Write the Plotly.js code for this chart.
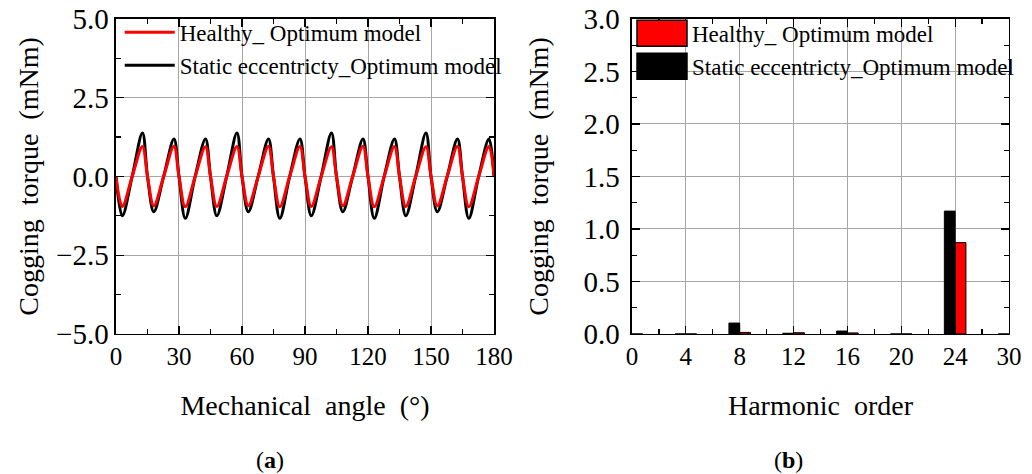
<!DOCTYPE html>
<html><head><meta charset="utf-8">
<script src="https://cdn.plot.ly/plotly-3.0.1.min.js"></script>
<style>html,body{margin:0;padding:0;background:#fff}#chart{width:1032px;height:474px}</style>
</head><body><div id="chart"></div>
<script>
// (a) cogging torque waveform, mechanical angle in degrees
const angle = [0,3,7.7,12.6, 15,18,22.7,27.6, 30,33,37.7,42.6, 45,48,52.7,57.6,
  60,63,67.7,72.6, 75,78,82.7,87.6, 90,93,97.7,102.6, 105,108,112.7,117.6,
  120,123,127.7,132.6, 135,138,142.7,147.6, 150,153,157.7,162.6, 165,168,172.7,177.6, 180];
const healthyTorque = [0,-0.95,0,0.95, 0,-0.93,0,0.96, 0,-0.96,0,0.94, 0,-0.95,0,0.95,
  0,-0.93,0,0.96, 0,-0.96,0,0.95, 0,-0.95,0,0.94, 0,-0.93,0,0.96,
  0,-0.96,0,0.95, 0,-0.95,0,0.94, 0,-0.93,0,0.96, 0,-0.96,0,0.95, 0];
const eccentricTorque = [0,-1.25,0,1.38, 0,-1.12,0,1.19, 0,-1.33,0,1.19, 0,-1.25,0,1.38,
  0,-1.12,0,1.19, 0,-1.33,0,1.19, 0,-1.25,0,1.38, 0,-1.12,0,1.19,
  0,-1.33,0,1.19, 0,-1.25,0,1.38, 0,-1.12,0,1.19, 0,-1.33,0,1.19, 0];

// (b) harmonic spectrum
const harmonicLabels = ['0','4','8','12','16','20','24','30'];
const healthyHarm = [0, 0, 0.015, 0.012, 0.010, 0, 0.87, 0];
const eccentricHarm = [0, 0, 0.104, 0.007, 0.028, 0, 1.17, 0];
const harmonicPos = harmonicLabels.map((_, i) => i);

const FONT = 'Liberation Serif';
const GRID = '#a6a6a6';

const traces = [
  {x: angle, y: eccentricTorque, type: 'scatter', mode: 'lines', name: 'Static eccentricty_Optimum model',
   line: {color: '#000000', width: 3, shape: 'spline', smoothing: 1}, xaxis: 'x', yaxis: 'y', legend: 'legend'},
  {x: angle, y: healthyTorque, type: 'scatter', mode: 'lines', name: 'Healthy_ Optimum model',
   line: {color: '#ff0000', width: 3, shape: 'spline', smoothing: 1}, xaxis: 'x', yaxis: 'y', legend: 'legend'},
  {x: harmonicPos, y: healthyHarm, type: 'bar', name: 'Healthy_ Optimum model', width: 0.2, offset: 0,
   marker: {color: '#ff0000', line: {color: '#000000', width: 1}}, xaxis: 'x2', yaxis: 'y2', legend: 'legend2'},
  {x: harmonicPos, y: eccentricHarm, type: 'bar', name: 'Static eccentricty_Optimum model', width: 0.2, offset: -0.2,
   marker: {color: '#000000', line: {color: '#000000', width: 1}}, xaxis: 'x2', yaxis: 'y2', legend: 'legend2'}
];

const axBase = {
  showline: true, linecolor: '#000', linewidth: 1.5, mirror: 'allticks',
  ticks: 'inside', ticklen: 8, tickwidth: 1.2, tickcolor: '#000',
  showgrid: true, gridcolor: GRID, gridwidth: 1, zeroline: false,
  tickfont: {family: FONT, size: 25, color: '#000'}, automargin: false
};
const yTickFont = {family: FONT, size: 29, color: '#000'};

const layout = {
  width: 1032, height: 474,
  margin: {l: 0, r: 0, t: 0, b: 0},
  paper_bgcolor: '#fff', plot_bgcolor: '#fff',
  font: {family: FONT, color: '#000'},
  barmode: 'overlay',
  showlegend: true,
  xaxis: Object.assign({}, axBase, {
    domain: [0.1124, 0.4787], range: [0, 180], dtick: 30, tick0: 0, anchor: 'y',
    minor: {dtick: 15, ticks: 'inside', ticklen: 5, tickcolor: '#000', showgrid: false},
    title: {text: 'Mechanical  angle  (°)', font: {family: FONT, size: 28}, standoff: 26}
  }),
  yaxis: Object.assign({}, axBase, {
    domain: [0.2954, 0.96], range: [-5, 5], dtick: 2.5, tick0: 0, tickformat: '.1f', anchor: 'x',
    tickfont: yTickFont,
    minor: {dtick: 1.25, ticks: 'inside', ticklen: 5, tickcolor: '#000', showgrid: false},
    title: {text: 'Cogging  torque  (mNm)', font: {family: FONT, size: 28}, standoff: 0}
  }),
  xaxis2: Object.assign({}, axBase, {
    domain: [0.6124, 0.9777], range: [0, 7], tickmode: 'array', tickvals: harmonicPos, ticktext: harmonicLabels,
    anchor: 'y2',
    minor: {dtick: 0.5, ticks: 'inside', ticklen: 5, tickcolor: '#000', showgrid: false},
    title: {text: 'Harmonic  order', font: {family: FONT, size: 28}, standoff: 26}
  }),
  yaxis2: Object.assign({}, axBase, {
    domain: [0.2954, 0.96], range: [0, 3], dtick: 0.5, tick0: 0, tickformat: '.1f', anchor: 'x2',
    tickfont: yTickFont, ticklabelstandoff: 5,
    minor: {dtick: 0.25, ticks: 'inside', ticklen: 5, tickcolor: '#000', showgrid: false},
    title: {text: 'Cogging  torque  (mNm)', font: {family: FONT, size: 28}, standoff: 26}
  }),
  legend: {x: 0.116, y: 0.977, xanchor: 'left', yanchor: 'top', bgcolor: 'rgba(0,0,0,0)',
    borderwidth: 0, itemwidth: 50, traceorder: 'reversed', tracegroupgap: 0,
    font: {family: FONT, size: 23, color: '#000'}},
  legend2: {x: 0.6124, y: 0.975, xanchor: 'left', yanchor: 'top', bgcolor: 'rgba(0,0,0,0)',
    borderwidth: 0, itemwidth: 50, traceorder: 'normal', tracegroupgap: 0,
    font: {family: FONT, size: 23, color: '#000'}},
  annotations: [
    {text: '(<b>a</b>)', xref: 'paper', yref: 'paper', x: 0.246, y: 0.03, yanchor: 'middle', showarrow: false,
     font: {family: FONT, size: 24, color: '#000'}},
    {text: '(<b>b</b>)', xref: 'paper', yref: 'paper', x: 0.780, y: 0.03, yanchor: 'middle', showarrow: false,
     font: {family: FONT, size: 24, color: '#000'}}
  ]
};

function shiftTitle(gd, cls, dx) {
  const t = gd.querySelector('g.' + cls + ' text');
  if (!t) return;
  const x = parseFloat(t.getAttribute('x')) + dx;
  const y = parseFloat(t.getAttribute('y'));
  t.setAttribute('x', x);
  t.setAttribute('transform', 'rotate(-90,' + x + ',' + y + ')');
}

Plotly.newPlot('chart', traces, layout, {staticPlot: true}).then(function(gd) {
  // enlarge the bar legend swatches of the spectrum legend
  const lg = gd.querySelector('g.legend2');
  if (lg) {
    lg.querySelectorAll('g.traces').forEach(function(tr) {
      const p = tr.querySelector('g.legendpoints path');
      if (p) {
        p.setAttribute('d', 'M25,13H-25V-13H25Z');
        p.setAttribute('transform', 'translate(30,0)');
        p.style.strokeWidth = '1.5px';
      }
    });
  }
  shiftTitle(gd, 'g-ytitle', -9);
});
</script>
</body></html>
